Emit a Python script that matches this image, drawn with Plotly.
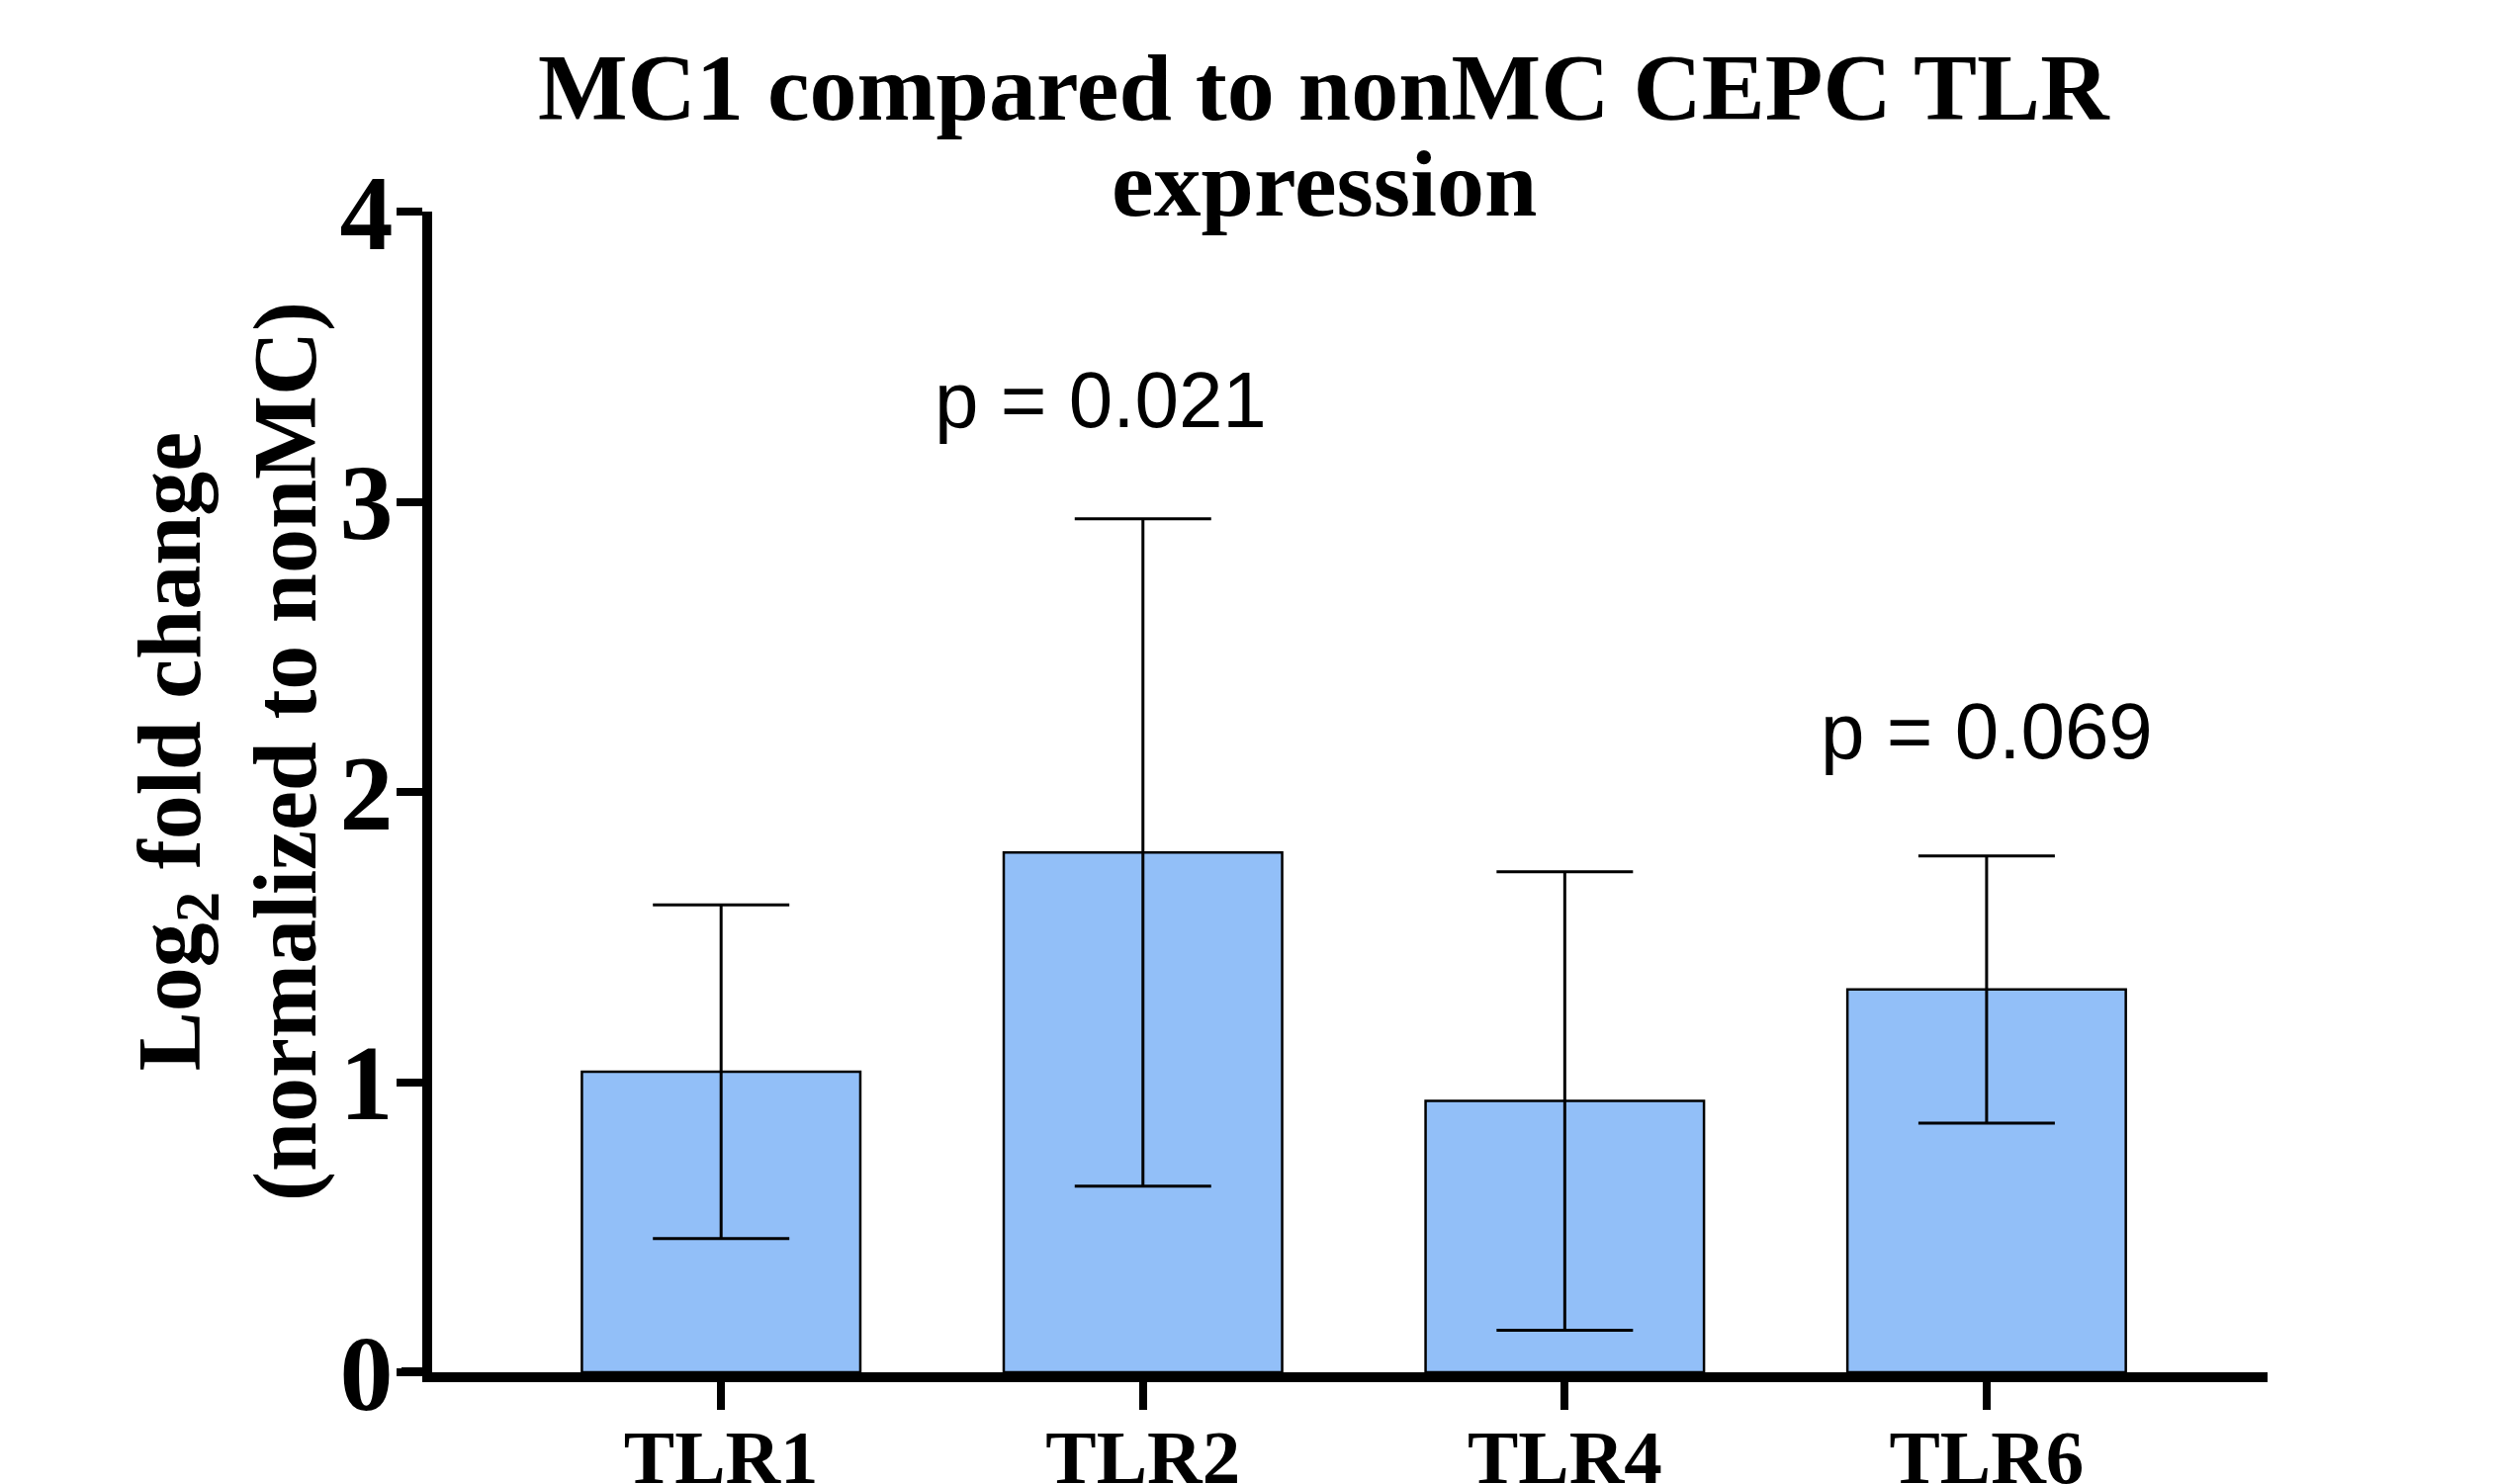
import plotly.graph_objects as go

categories = ["TLR1", "TLR2", "TLR4", "TLR6"]
means = [1.036, 1.791, 0.935, 1.319]
errors = [0.575, 1.15, 0.79, 0.46]
y_ticks = [0, 1, 2, 3, 4]
p_labels = ["p = 0.021", "p = 0.069"]
p_x = [0.90, 3.0]
p_y = [3.35, 2.21]

xpos = list(range(len(categories)))

OFF = 8  # page body margin
W, H = 2523 - OFF, 1501 - OFF
L, R, T, B = 437 - OFF, 230, 214 - OFF, 113
plot_w = W - L - R
plot_h = H - T - B


def px(sx):
    return (sx - OFF - L) / plot_w


def py(sy):
    return (H - B - (sy - OFF)) / plot_h


fig = go.Figure()
fig.add_trace(go.Bar(
    x=xpos, y=means, width=0.66,
    marker=dict(color="#92BFF8", line=dict(color="#000000", width=2.5)),
    error_y=dict(type="data", array=errors, visible=True, color="#000000",
                 thickness=3, width=69),
    showlegend=False,
))

serif = "Liberation Serif"
sans = "Liberation Sans"

annotations = []
for t, x, y in zip(p_labels, p_x, p_y):
    annotations.append(dict(x=x, y=y, xref="x", yref="y", text=t, showarrow=False,
                            font=dict(family=sans, size=80, color="#000000"),
                            xanchor="center", yanchor="middle"))

# title (two lines, tight spacing)
annotations.append(dict(x=px(1339), y=py(88), xref="paper", yref="paper",
                        text="<b>MC1 compared to nonMC CEPC TLR</b>", showarrow=False,
                        font=dict(family=serif, size=96, color="#000000"),
                        xanchor="center", yanchor="middle"))
annotations.append(dict(x=px(1339), y=py(186), xref="paper", yref="paper",
                        text="<b>expression</b>", showarrow=False,
                        font=dict(family=serif, size=96, color="#000000"),
                        xanchor="center", yanchor="middle"))
# y-axis title
annotations.append(dict(x=px(230), y=py(760), xref="paper", yref="paper",
                        text="<b>Log<sub>2</sub> fold change<br>(normalized to nonMC)</b>",
                        showarrow=False, textangle=-90,
                        font=dict(family=serif, size=90, color="#000000"),
                        xanchor="center", yanchor="middle"))

fig.update_layout(
    width=W, height=H,
    margin=dict(l=L, r=R, t=T, b=B, pad=0, autoexpand=False),
    paper_bgcolor="white", plot_bgcolor="white",
    annotations=annotations,
    xaxis=dict(
        range=[-0.685, 3.666], tickmode="array", tickvals=xpos, ticktext=[f"<b>{c}</b>" for c in categories],
        showline=True, linecolor="#000000", linewidth=10, automargin=False,
        ticks="outside", ticklen=28, tickwidth=8, tickcolor="#000000",
        ticklabelstandoff=-18,
        tickfont=dict(family=serif, size=77, color="#000000"),
        showgrid=False, zeroline=False,
    ),
    yaxis=dict(
        range=[0, 4], tickmode="array", tickvals=y_ticks, ticktext=[f"<b>{v}</b>" for v in y_ticks],
        showline=True, linecolor="#000000", linewidth=10, automargin=False,
        ticks="outside", ticklen=26, tickwidth=8, tickcolor="#000000",
        ticklabelstandoff=-18,
        tickfont=dict(family=serif, size=108, color="#000000"),
        showgrid=False, zeroline=False,
    ),
    shapes=[dict(type="line", xref="paper", yref="y", x0=px(406), x1=0, y0=0, y1=0,
                 line=dict(color="#000000", width=10), layer="above")],
)

fig.write_html("out.html")
